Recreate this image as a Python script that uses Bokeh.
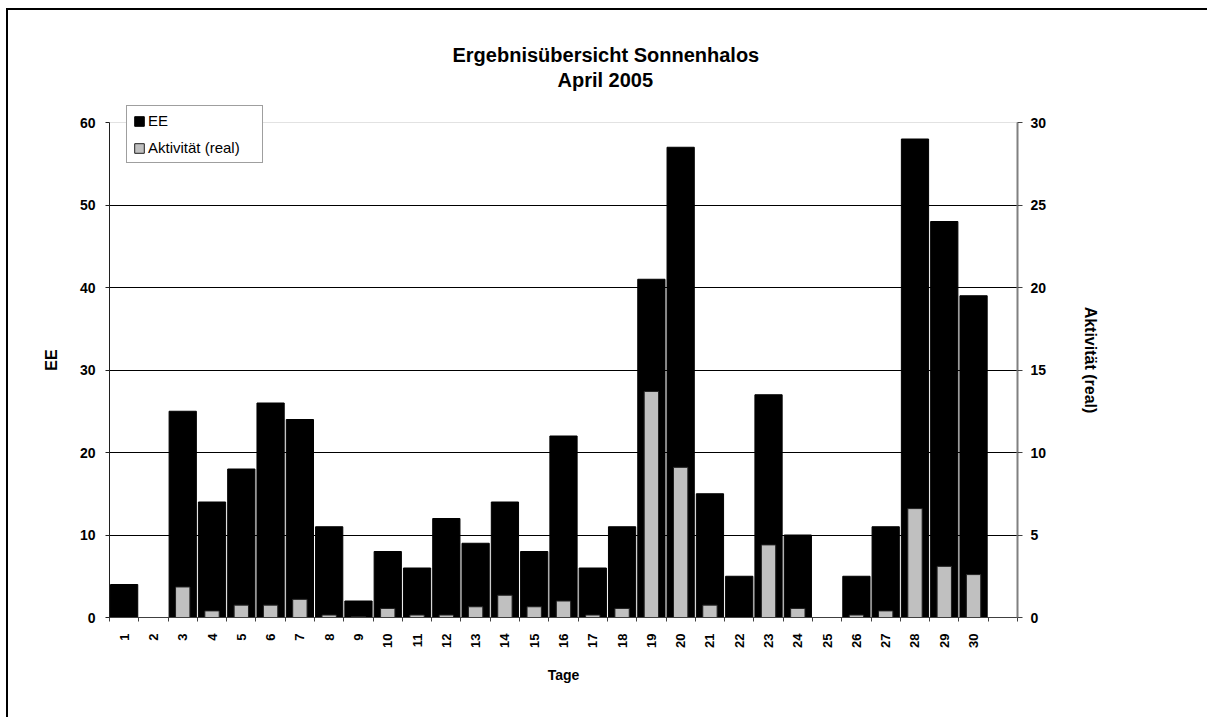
import math
from bokeh.plotting import figure
from bokeh.models import Range1d, LinearAxis, FixedTicker, Legend, LegendItem, ColumnDataSource, Title, Grid
from bokeh.embed import file_html
from bokeh.resources import INLINE

# ---- data ----
title_line1 = "Ergebnisübersicht Sonnenhalos"
title_line2 = "April 2005"
x_title = "Tage"
left_title = "EE"
right_title = "Aktivität (real)"
series_names = ["EE", "Aktivität (real)"]
days = ["1", "2", "3", "4", "5", "6", "7", "8", "9", "10",
        "11", "12", "13", "14", "15", "16", "17", "18", "19", "20",
        "21", "22", "23", "24", "25", "26", "27", "28", "29", "30"]
ee = [4, 0, 25, 14, 18, 26, 24, 11, 2, 8,
      6, 12, 9, 14, 8, 22, 6, 11, 41, 57,
      15, 5, 27, 10, 0, 5, 11, 58, 48, 39]
aktivitaet = [0, 0, 1.85, 0.4, 0.75, 0.75, 1.1, 0.15, 0.05, 0.55,
              0.15, 0.15, 0.65, 1.35, 0.65, 1.0, 0.15, 0.55, 13.7, 9.1,
              0.75, 0, 4.4, 0.55, 0, 0.15, 0.4, 6.6, 3.1, 2.6]
left_ticks = [0, 10, 20, 30, 40, 50, 60]
right_ticks = [0, 5, 10, 15, 20, 25, 30]

FONT = "Liberation Sans"

# ---- layout (px) ----
FRAME_W = 908
AXIS_H = 495          # height of the 0..60 axis
EXTRA_TOP = 20        # frame extends a bit above the axis top (legend overlaps)
FRAME_H = AXIS_H + EXTRA_TOP
CANVAS_W = 1199
CANVAS_H = 707
MB_LEFT = 101
MB_TOP = 112 - EXTRA_TOP

xs = list(range(1, len(days) + 1))
n_slots = len(days) + 1  # the Excel axis has one extra, empty slot
src = ColumnDataSource(dict(x=xs, ee=ee, akt=aktivitaet))

y_end_left = left_ticks[-1] * FRAME_H / AXIS_H
y_end_right = right_ticks[-1] * FRAME_H / AXIS_H

p = figure(frame_width=FRAME_W, frame_height=FRAME_H,
           min_border_left=MB_LEFT, min_border_top=MB_TOP,
           min_border_right=CANVAS_W - MB_LEFT - FRAME_W,
           min_border_bottom=CANVAS_H - MB_TOP - FRAME_H,
           x_range=Range1d(0.5, n_slots + 0.5), y_range=Range1d(0, y_end_left),
           output_backend="svg", toolbar_location=None, tools="")
p.extra_y_ranges = {"right": Range1d(0, y_end_right)}
p.styles = {"border-top": "2px solid black", "border-left": "2px solid black",
            "margin-left": "6px", "margin-top": "8px"}
p.background_fill_color = "white"
p.border_fill_color = "white"
p.outline_line_color = None

r_ee = p.vbar(x="x", top="ee", width=0.93, source=src,
              fill_color="black", line_color="black", line_width=1)
r_akt = p.vbar(x="x", top="akt", width=0.49, source=src, y_range_name="right",
               fill_color="#c0c0c0", line_color="#202020", line_width=1)

# grid
p.xgrid.visible = False
p.ygrid.ticker = FixedTicker(ticks=left_ticks[1:-1])
p.ygrid.grid_line_color = "black"
p.ygrid.grid_line_width = 1
p.add_layout(Grid(dimension=1, ticker=FixedTicker(ticks=left_ticks[-1:]),
                  grid_line_color="#e2e2e2", grid_line_width=1))

# x axis
xa = p.xaxis[0]
xa.ticker = FixedTicker(ticks=xs, minor_ticks=[i + 0.5 for i in range(0, n_slots + 1)])
xa.major_label_overrides = {x: d for x, d in zip(xs, days)}
xa.major_tick_out = 0
xa.major_tick_in = 0
xa.minor_tick_out = 4
xa.minor_tick_in = 0
xa.minor_tick_line_color = "#404040"
xa.axis_line_color = "#404040"
xa.major_label_orientation = math.pi / 2
xa.major_label_standoff = 12
xa.major_label_text_font = FONT
xa.major_label_text_font_style = "bold"
xa.major_label_text_font_size = "13px"
xa.major_label_text_color = "black"
xa.axis_label = x_title
xa.axis_label_text_font = FONT
xa.axis_label_text_font_size = "14px"
xa.axis_label_text_font_style = "bold"
xa.axis_label_text_color = "black"
xa.axis_label_standoff = 16

# left axis
ya = p.yaxis[0]
ya.ticker = FixedTicker(ticks=left_ticks)
ya.bounds = (left_ticks[0], left_ticks[-1])
ya.major_tick_out = 4
ya.major_tick_in = 0
ya.minor_tick_out = 0
ya.minor_tick_in = 0
ya.axis_line_color = "#202020"
ya.major_tick_line_color = "#202020"
ya.major_label_standoff = 10
ya.major_label_text_font = FONT
ya.major_label_text_font_style = "bold"
ya.major_label_text_font_size = "14px"
ya.major_label_text_color = "black"
ya.axis_label = left_title
ya.axis_label_text_font = FONT
ya.axis_label_text_font_size = "16px"
ya.axis_label_text_font_style = "bold"
ya.axis_label_text_color = "black"
ya.axis_label_standoff = 17

# right axis
ra = LinearAxis(y_range_name="right", ticker=FixedTicker(ticks=right_ticks),
                bounds=(right_ticks[0], right_ticks[-1]))
ra.major_tick_out = 5
ra.major_tick_in = 0
ra.minor_tick_out = 0
ra.minor_tick_in = 0
ra.axis_line_color = "#808080"
ra.axis_line_width = 2
ra.major_tick_line_color = "#404040"
ra.major_label_standoff = 8
ra.major_label_text_font = FONT
ra.major_label_text_font_style = "bold"
ra.major_label_text_font_size = "14px"
ra.major_label_text_color = "black"
ra.axis_label = right_title
ra.axis_label_text_font = FONT
ra.axis_label_text_font_size = "16px"
ra.axis_label_text_font_style = "bold"
ra.axis_label_text_color = "black"
ra.axis_label_standoff = 33
p.add_layout(ra, "right")

# titles (p.title is the outer one, the added one sits nearer the frame)
p.title = Title(text=title_line1, align="left", offset=343, standoff=-22,
                text_font=FONT, text_font_size="20px", text_font_style="bold",
                text_color="black")
p.add_layout(Title(text=title_line2, align="left", offset=448, standoff=24,
                   text_font=FONT, text_font_size="20px", text_font_style="bold",
                   text_color="black"), "above")

# legend
legend = Legend(items=[LegendItem(label=series_names[0], renderers=[r_ee]),
                       LegendItem(label=series_names[1], renderers=[r_akt])],
                location=(17, AXIS_H - 41))
legend.label_text_font = FONT
legend.label_text_font_size = "15px"
legend.label_text_color = "black"
legend.glyph_width = 12
legend.glyph_height = 12
legend.label_height = 16
legend.label_width = 108
legend.label_standoff = 3
legend.spacing = 10
legend.padding = 6
legend.margin = 0
legend.border_line_color = "#404040"
legend.border_line_width = 1
legend.background_fill_color = "white"
legend.background_fill_alpha = 1
p.add_layout(legend, "center")

open("out.html", "w").write(file_html(p, INLINE))
